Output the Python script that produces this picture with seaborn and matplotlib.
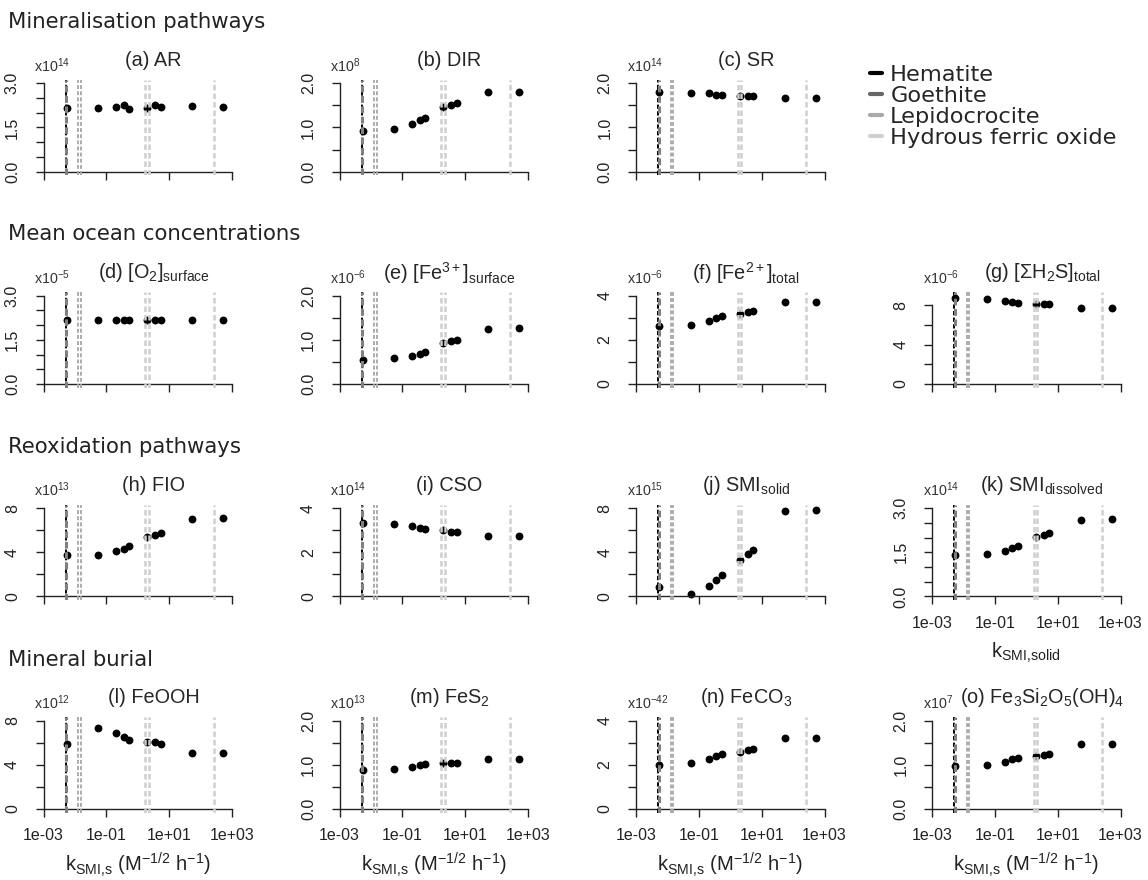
import matplotlib
matplotlib.use('Agg')
import matplotlib.pyplot as plt
from matplotlib.lines import Line2D
import numpy as np
import seaborn as sns

# rate constant k_SMI,s of each model run
k_smi = [0.0055, 0.055, 0.21, 0.36, 0.53, 2.0, 3.6, 5.3, 54, 520]

# k_SMI,s of each iron mineral (vertical reference lines)
hematite_k = [0.0051]
goethite_k = [0.0053]
lepidocrocite_k = [0.0129, 0.0153]
hfo_k = [1.73, 2.21, 262]

# mineralisation pathways
ar = [2.15, 2.17, 2.20, 2.26, 2.14, 2.15, 2.26, 2.18, 2.23, 2.20]
dir_ = [0.93, 0.97, 1.08, 1.17, 1.22, 1.46, 1.52, 1.55, 1.80, 1.81]
sr = [1.80, 1.79, 1.77, 1.74, 1.73, 1.71, 1.71, 1.71, 1.66, 1.66]
# mean ocean concentrations
o2_surface = [2.16, 2.16, 2.16, 2.16, 2.16, 2.16, 2.16, 2.16, 2.16, 2.16]
fe3_surface = [0.55, 0.58, 0.63, 0.69, 0.73, 0.93, 0.98, 1.00, 1.25, 1.26]
fe2_total = [2.61, 2.65, 2.83, 2.98, 3.07, 3.19, 3.25, 3.30, 3.69, 3.69]
h2s_total = [8.72, 8.65, 8.44, 8.31, 8.24, 8.17, 8.14, 8.10, 7.76, 7.76]
# reoxidation pathways
fio = [3.72, 3.75, 4.08, 4.32, 4.56, 5.38, 5.59, 5.77, 7.04, 7.10]
cso = [3.31, 3.26, 3.17, 3.09, 3.05, 2.99, 2.94, 2.91, 2.72, 2.72]
smi_solid = [0.85, 0.24, 0.97, 1.51, 1.93, 3.32, 3.84, 4.20, 7.73, 7.79]
smi_dissolved = [1.42, 1.45, 1.55, 1.63, 1.72, 2.02, 2.09, 2.15, 2.60, 2.62]
# mineral burial
feooh = [5.86, 7.37, 6.92, 6.56, 6.28, 6.04, 6.04, 5.89, 5.05, 5.05]
fes2 = [0.88, 0.90, 0.94, 0.99, 1.01, 1.03, 1.04, 1.05, 1.12, 1.12]
feco3 = [2.01, 2.08, 2.25, 2.40, 2.48, 2.60, 2.67, 2.70, 3.20, 3.20]
greenalite = [0.97, 0.99, 1.06, 1.12, 1.15, 1.20, 1.22, 1.25, 1.47, 1.47]

sections = ["Mineralisation pathways", "Mean ocean concentrations",
            "Reoxidation pathways", "Mineral burial"]
minerals = ["Hematite", "Goethite", "Lepidocrocite", "Hydrous ferric oxide"]

# (title, values, exponent, ymax, tick step, label step, row, col)
panels = [
    ("(a) AR", ar, "14", 3.0, 0.5, 1.5, 0, 0),
    ("(b) DIR", dir_, "8", 2.0, 0.5, 1.0, 0, 1),
    ("(c) SR", sr, "14", 2.0, 0.5, 1.0, 0, 2),
    (r"(d) [O$_2$]$_{\mathrm{surface}}$", o2_surface, "-5", 3.0, 0.5, 1.5, 1, 0),
    (r"(e) [Fe$^{3+}$]$_{\mathrm{surface}}$", fe3_surface, "-6", 2.0, 0.5, 1.0, 1, 1),
    (r"(f) [Fe$^{2+}$]$_{\mathrm{total}}$", fe2_total, "-6", 4, 1, 2, 1, 2),
    (r"(g) [ΣH$_2$S]$_{\mathrm{total}}$", h2s_total, "-6", 9, 2, 4, 1, 3),
    ("(h) FIO", fio, "13", 8, 2, 4, 2, 0),
    ("(i) CSO", cso, "14", 4, 1, 2, 2, 1),
    (r"(j) SMI$_{\mathrm{solid}}$", smi_solid, "15", 8, 2, 4, 2, 2),
    (r"(k) SMI$_{\mathrm{dissolved}}$", smi_dissolved, "14", 3.0, 0.5, 1.5, 2, 3),
    ("(l) FeOOH", feooh, "12", 8, 2, 4, 3, 0),
    (r"(m) FeS$_2$", fes2, "13", 2.0, 0.5, 1.0, 3, 1),
    (r"(n) FeCO$_3$", feco3, "-42", 4, 1, 2, 3, 2),
    (r"(o) Fe$_3$Si$_2$O$_5$(OH)$_4$", greenalite, "7", 2.0, 0.5, 1.0, 3, 3),
]

sns.set_style("ticks")
plt.rcParams['font.family'] = ['Liberation Sans', 'DejaVu Sans']
plt.rcParams['mathtext.fontset'] = 'custom'
plt.rcParams['mathtext.rm'] = 'Liberation Sans'
plt.rcParams['mathtext.it'] = 'Liberation Sans:italic'
plt.rcParams['mathtext.bf'] = 'Liberation Sans:bold'

W, H = 1148, 880
fig = plt.figure(figsize=(W / 100, H / 100), dpi=100)

col_left = [43.5, 339.5, 636, 932]
row_zero = [171.7, 384, 596.5, 809]
axis_w = 188.5
unit_h = 88.4

line_styles = [
    (hematite_k, 'black', 1.4),
    (goethite_k, '#808080', 2.2),
    (lepidocrocite_k, '#a6a6a6', 1.3),
    (hfo_k, '#cfcfcf', 1.8),
]
xlab = r"k$_{\mathrm{SMI,\!s}}$ (M$^{\mathrm{-1/2}}$ h$^{\mathrm{-1}}$)"

for title, vals, expo, ymax, step, lstep, row, col in panels:
    left = col_left[col]
    y0 = row_zero[row]
    bottom_px = y0 + 0.04 * unit_h
    ax = fig.add_axes([left / W, 1 - bottom_px / H, axis_w / W, 1.08 * unit_h / H])

    sns.scatterplot(x=k_smi, y=vals, ax=ax, color='black', s=32,
                    linewidth=0, zorder=2)
    for ks, c, lw in line_styles:
        for kv in ks:
            ax.axvline(kv, color=c, lw=lw, ls=(0, (2.2, 1.2)), zorder=3)

    ax.set_xscale('log')
    ax.set_xlim(1e-3, 1e3)
    ax.set_ylim(-0.04 * ymax, 1.04 * ymax)
    ticks = np.arange(0, ymax + 1e-9, step)
    labs = []
    for t in ticks:
        if abs(t / lstep - round(t / lstep)) < 1e-6:
            labs.append(f"{t:.1f}" if step < 1 else f"{t:.0f}")
        else:
            labs.append("")
    ax.set_yticks(ticks)
    ax.set_yticklabels(labs)
    ax.set_xticks([1e-3, 1e-1, 1e1, 1e3])
    ax.xaxis.set_minor_locator(matplotlib.ticker.NullLocator())

    show_x = row == 3 or (row == 2 and col == 3)
    if show_x:
        ax.set_xticklabels(["1e-03", "1e-01", "1e+01", "1e+03"])
    else:
        ax.set_xticklabels([])

    ax.spines['top'].set_visible(False)
    ax.spines['right'].set_visible(False)
    ax.spines['bottom'].set_position(('data', 0))
    ax.spines['left'].set_bounds(0, ticks[-1])
    for s in ('left', 'bottom'):
        ax.spines[s].set_linewidth(1.0)
        ax.spines[s].set_color('#222222')
    ax.tick_params(axis='both', direction='out', length=6, width=1.0,
                   color='#222222', labelsize=11.5, labelcolor='#222222')
    ax.tick_params(axis='y', pad=11)
    ax.tick_params(axis='x', pad=8)
    for lab in ax.get_yticklabels():
        lab.set_rotation(90)
        lab.set_verticalalignment('center')

    top_px = y0 - unit_h
    fig.text((left + 110) / W, 1 - (top_px - 23) / H, title,
             ha='center', va='center', fontsize=14.3)
    fig.text((left - 9) / W, 1 - (top_px - 18) / H, "x10$^{" + expo + "}$",
             ha='left', va='center', fontsize=10.3, color='#333333')

    if show_x:
        label = r"k$_{\mathrm{SMI,\!solid}}$" if row == 2 else xlab
        fig.text((left + axis_w / 2) / W, 1 - (y0 + 56) / H, label,
                 ha='center', va='center', fontsize=14.5, color='#222222')

heading_y = [22, 234, 447, 660]
for name, hy in zip(sections, heading_y):
    fig.text(8 / W, 1 - hy / H, name, ha='left', va='center',
             fontsize=15.3, family='DejaVu Sans', color='#222222')

handles = [Line2D([], [], color=c, lw=3) for c in ['black', '#666666', '#aaaaaa', '#d0d0d0']]
fig.legend(handles, minerals,
           loc='upper left', bbox_to_anchor=(870 / W, 1 - 65 / H), frameon=False,
           handlelength=0.55, handletextpad=0.35, labelspacing=0.05,
           borderpad=0, borderaxespad=0, prop={'family': 'DejaVu Sans', 'size': 16.2})

fig.savefig("out.png", dpi=100)
